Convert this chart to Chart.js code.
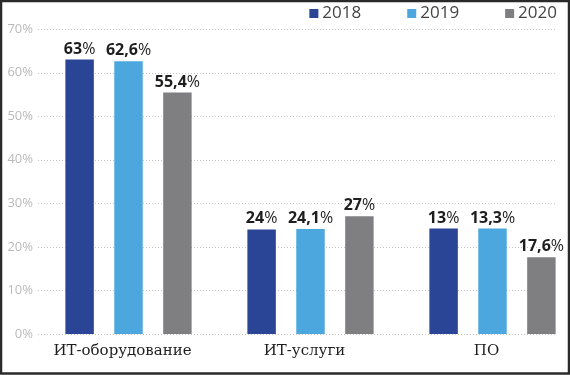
<!DOCTYPE html>
<html>
<head>
<meta charset="utf-8">
<script src="https://cdn.jsdelivr.net/npm/chart.js@4"></script>
<style>
  html, body { margin:0; padding:0; background:#fff; }
  #wrap { width:570px; height:375px; }
</style>
</head>
<body>
<div id="wrap"><canvas id="chart" width="570" height="375"></canvas></div>
<script>
// Данные с картинки
const categories = ['ИТ-оборудование', 'ИТ-услуги', 'ПО'];
const years = ['2018', '2019', '2020'];
// высоты столбцов, как они нарисованы (%)
const h2018 = [63, 24, 24.2];
const h2019 = [62.6, 24.1, 24.2];
const h2020 = [55.4, 27, 17.6];
// подписи над столбцами, как напечатаны
const lbl2018 = [63, 24, 13];
const lbl2019 = [62.6, 24.1, 13.3];
const lbl2020 = [55.4, 27, 17.6];
const yTicks = [0, 10, 20, 30, 40, 50, 60, 70];

const colors = ['#2a4496', '#4ba7dd', '#7f7f82'];

function pts(arr){ return arr.map((v,i)=>({x:i, y:v})); }

// пунктирная сетка
const dotGrid = {
  id:'dotGrid',
  beforeDatasetsDraw(chart){
    const {ctx, chartArea, scales:{y}} = chart;
    ctx.save();
    ctx.strokeStyle = '#c4c4c4';
    ctx.lineWidth = 1;
    ctx.setLineDash([1,2]);
    y.ticks.forEach(t=>{
      const py = Math.round(y.getPixelForValue(t.value)) + 0.5;
      ctx.beginPath(); ctx.moveTo(chartArea.left, py); ctx.lineTo(chartArea.right, py); ctx.stroke();
    });
    ctx.restore();
  }
};

// подписи над столбцами: число жирным, % обычным
const valueLabels = {
  id:'valueLabels',
  afterDatasetsDraw(chart){
    const ctx = chart.ctx;
    ctx.save();
    ctx.fillStyle = '#1e1e1e';
    ctx.textAlign = 'left';
    ctx.textBaseline = 'alphabetic';
    chart.data.datasets.forEach((ds,di)=>{
      chart.getDatasetMeta(di).data.forEach((bar,i)=>{
        const num = String(ds.valueLabels[i]).replace('.', ',');
        ctx.font = 'bold 16px "Open Sans"';
        const w1 = ctx.measureText(num).width;
        ctx.font = '16px "Open Sans"';
        const w2 = ctx.measureText('%').width;
        const x0 = bar.x - (w1 + w2)/2, y = bar.y - 6;
        ctx.font = 'bold 16px "Open Sans"'; ctx.fillText(num, x0, y);
        ctx.font = '16px "Open Sans"'; ctx.fillText('%', x0 + w1, y);
      });
    });
    ctx.restore();
  }
};

// легенда справа сверху + рамка
const topLegend = {
  id:'topLegend',
  afterDraw(chart){
    const ctx = chart.ctx;
    ctx.save();
    ctx.font = '17px "Open Sans"';
    ctx.textBaseline = 'middle';
    ctx.textAlign = 'left';
    let x = 557;
    const ds = chart.data.datasets;
    for (let i = ds.length - 1; i >= 0; i--) {
      const w = ctx.measureText(ds[i].label).width;
      const tx = x - w;
      ctx.fillStyle = '#444';
      ctx.fillText(ds[i].label, tx, 13.5);
      ctx.fillStyle = ds[i].backgroundColor;
      ctx.fillRect(tx - 13, 9, 9, 9);
      x = tx - 13 - 46;
    }
    ctx.strokeStyle = '#2a2a2a';
    ctx.lineWidth = 2.5;
    ctx.strokeRect(1, 1, 568, 372.5);
    ctx.restore();
  }
};

new Chart(document.getElementById('chart'), {
  type:'bar',
  data:{
    datasets:[
      { label:years[0], data:pts(h2018), valueLabels:lbl2018, backgroundColor:colors[0] },
      { label:years[1], data:pts(h2019), valueLabels:lbl2019, backgroundColor:colors[1] },
      { label:years[2], data:pts(h2020), valueLabels:lbl2020, backgroundColor:colors[2] }
    ]
  },
  options:{
    responsive:false,
    animation:false,
    devicePixelRatio:1,
    layout:{ padding:{ left:7, top:29, right:15, bottom:7 } },
    datasets:{ bar:{ categoryPercentage:0.806, barPercentage:0.582, clip:false } },
    plugins:{ legend:{ display:false }, tooltip:{ enabled:false } },
    scales:{
      x:{
        type:'linear',
        offset:false,
        min:-0.4973, max:2.3434,
        grid:{ display:false, drawTicks:false, offset:false },
        border:{ display:false },
        afterBuildTicks: s => { s.ticks = categories.map((c,i)=>({value:i})); },
        ticks:{
          callback: v => categories[v],
          font:{ family:'DejaVu Serif', size:15 },
          color:'#1e1e1e',
          padding:8,
          labelOffset:-6,
          autoSkip:false,
          maxRotation:0
        }
      },
      y:{
        min:0, max:70,
        grid:{ display:false, drawTicks:false },
        border:{ display:false },
        afterBuildTicks: s => { s.ticks = yTicks.map(v=>({value:v})); },
        afterFit: s => { s.width = 31; },
        ticks:{
          callback: v => v + '%',
          font:{ family:'Open Sans', size:13 },
          color:'#bababa',
          padding:5
        }
      }
    }
  },
  plugins:[dotGrid, valueLabels, topLegend]
});
</script>
</body>
</html>
